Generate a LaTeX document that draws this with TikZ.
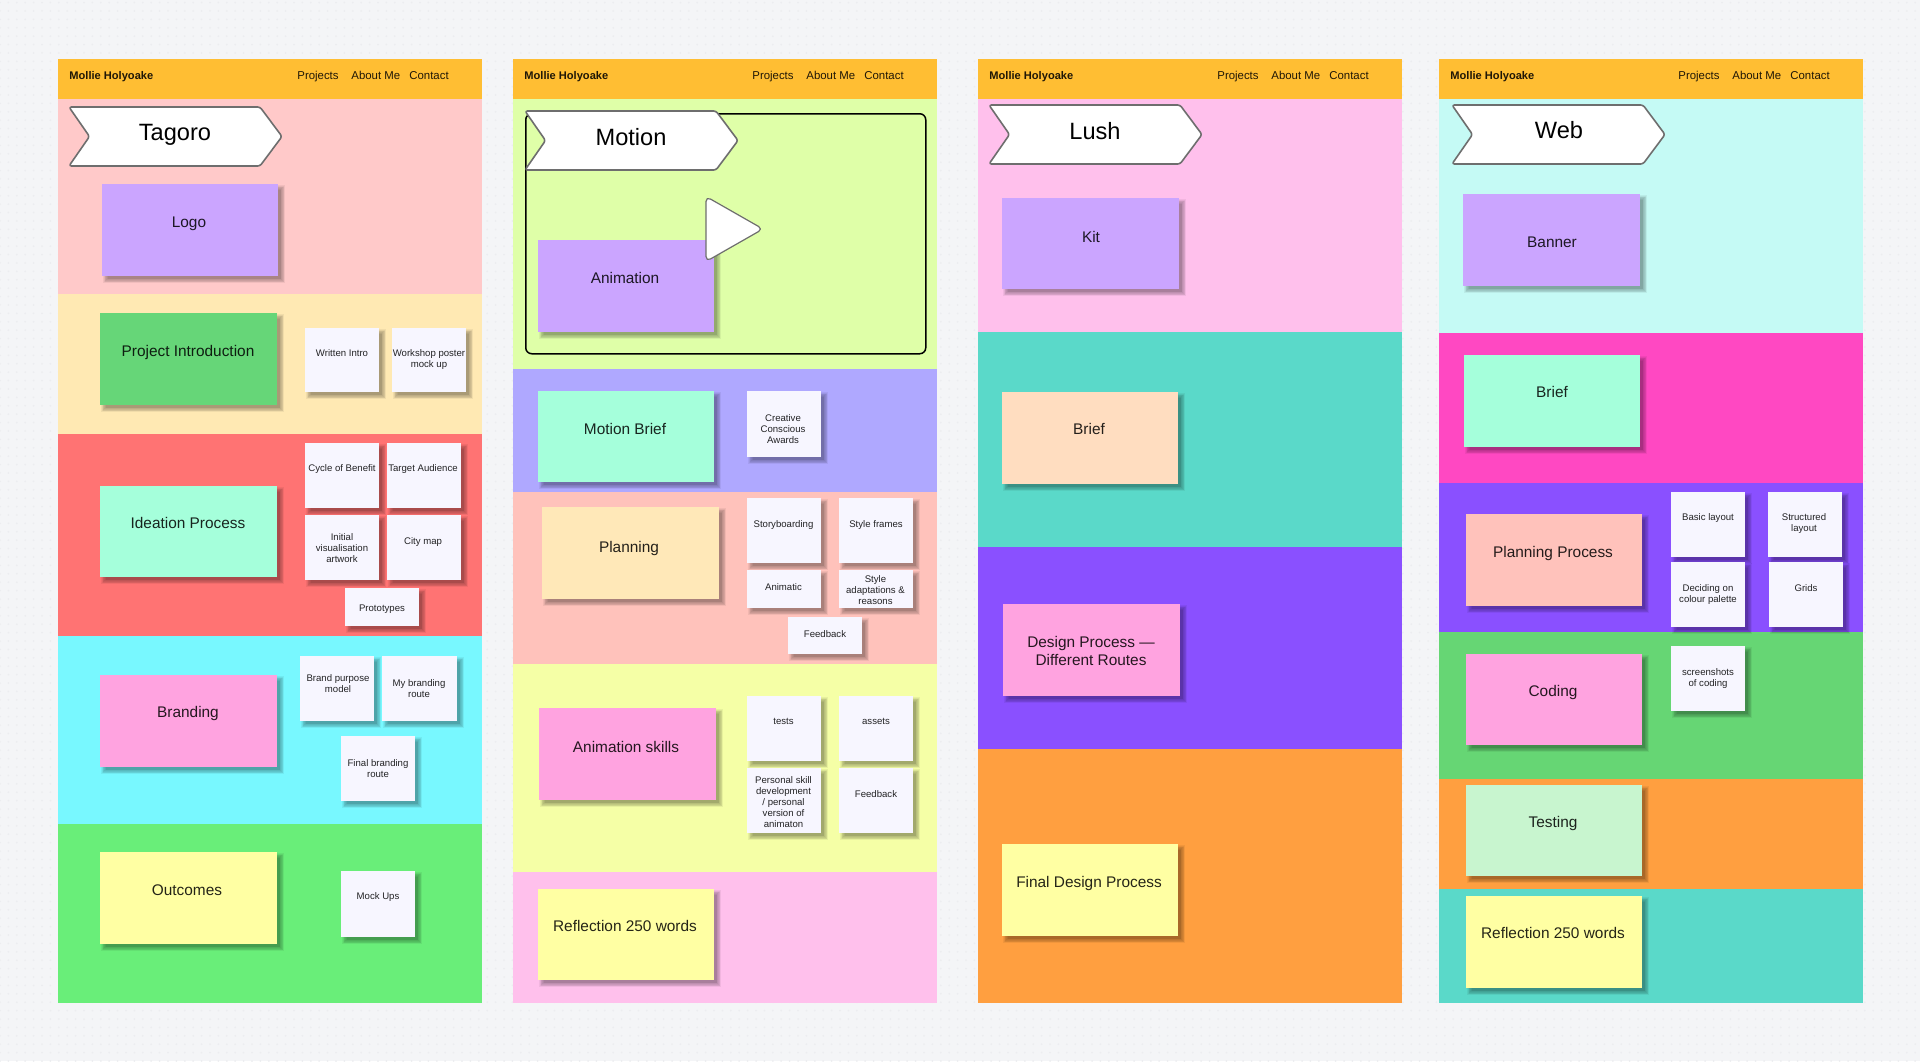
\documentclass[tikz,border=0pt]{standalone}
\usepackage{fontspec}
\setmainfont{Liberation Sans}
\usetikzlibrary{patterns.meta}
\definecolor{pagebg}{HTML}{F4F5F7}
\definecolor{dotc}{HTML}{ECEDF0}
\definecolor{head}{HTML}{FFBE33}
\definecolor{bPink}{HTML}{FFC9C9}
\definecolor{bCream}{HTML}{FFE9B3}
\definecolor{bRed}{HTML}{FF7373}
\definecolor{bCyan}{HTML}{78F8FF}
\definecolor{bGreen}{HTML}{69EE79}
\definecolor{bLime}{HTML}{DFFFA8}
\definecolor{bLav}{HTML}{AFA8FF}
\definecolor{bSalmon}{HTML}{FFC2BB}
\definecolor{bYellow}{HTML}{F5FFA6}
\definecolor{bRose}{HTML}{FFC0EC}
\definecolor{bTeal}{HTML}{5AD9C9}
\definecolor{bPurple}{HTML}{8A50FF}
\definecolor{bOrange}{HTML}{FF9F40}
\definecolor{bIce}{HTML}{C5FAF5}
\definecolor{bMagenta}{HTML}{FF48C2}
\definecolor{bGrass}{HTML}{66D674}
\definecolor{sViolet}{HTML}{CBA5FF}
\definecolor{sGreen}{HTML}{66D678}
\definecolor{sMint}{HTML}{A5FFDB}
\definecolor{sPink}{HTML}{FFA3E0}
\definecolor{sCream}{HTML}{FFE8B8}
\definecolor{sPeach}{HTML}{FFDDC0}
\definecolor{sYellow}{HTML}{FFFFA3}
\definecolor{sPale}{HTML}{C8F5CF}
\definecolor{sSalmon}{HTML}{FFC2BB}
\definecolor{sWhite}{HTML}{F7F6FF}
\definecolor{outl}{HTML}{6E6E6E}
\tikzset{
  cardbox/.style={rectangle,anchor=north west,inner sep=0pt,outer sep=0pt},
  cardtext/.style={inner sep=0pt,align=center,text=black,text opacity=.86,anchor=center,yshift=-.6pt},
  bigtext/.style={cardtext,font=\fontsize{7.7}{9}\selectfont,text height=5.6pt,text depth=1.6pt},
  bigmulti/.style={cardtext,font=\fontsize{7.7}{9}\selectfont},
  smalltext/.style={cardtext,font=\fontsize{4.8}{5.5}\selectfont,text height=3.4pt,text depth=1pt},
  smallmulti/.style={cardtext,font=\fontsize{4.8}{5.5}\selectfont},
  titletext/.style={inner sep=0pt,anchor=center,text=black,yshift=-.6pt,font=\fontsize{11.8}{13}\selectfont,text height=8.4pt,text depth=2.2pt},
  navtext/.style={inner sep=0pt,anchor=west,text=black,text opacity=.88,yshift=-.5pt,font=\fontsize{5.7}{6}\selectfont,text height=3.8pt,text depth=1.1pt},
  brandtext/.style={navtext,font=\bfseries\fontsize{5.55}{6}\selectfont},
  chevronshape/.style={draw=outl,fill=white,line width=.8pt,rounded corners=1.2pt,line join=round},
}
\newcommand\band[4]{\fill[#4] (#1,#2) rectangle ({#1+423.5},#3);}
\newcommand\softshadow[4]{%
  \foreach \d in {3,2.25,1.5,.75,0,-.75,-1.5}{\fill[black,fill opacity=.055] ({#1+4-\d},{#2+4-\d}) rectangle ({#3+4+\d},{#4+4+\d});}}
% name, x1,y1,x2,y2, colour, style, tx, ty, text
\newcommand\card[9]{%
  \softshadow{#2}{#3}{#4}{#5}
  \node[cardbox,fill=#6,minimum width={(#4-#2)*0.5pt},minimum height={(#5-#3)*0.5pt}] (#1) at (#2,#3) {};
  \cardlabel{#1}{#7}{#8}{#9}}
\newcommand\cardlabel[4]{\node[#2] (#1t) at (#3,#4) {\cardtxt};}
\newcommand\header[2]{%
  \fill[head] (#1,58.5) rectangle ({#1+423.5},99);
  \node[brandtext] (#2a) at ({#1+11},76) {Mollie Holyoake};
  \node[navtext] (#2b) at ({#1+239},76) {Projects};
  \node[navtext] (#2c) at ({#1+293},76) {About Me};
  \node[navtext] (#2d) at ({#1+351},76) {Contact};}
% x of left, y top, title name, text x, text y, title
\newcommand\chevron[6]{%
  \draw[chevronshape] (#1,#2) -- ({#1+191},#2) -- ({#1+213},{#2+29.5}) -- ({#1+191},{#2+59}) -- (#1,{#2+59}) -- ({#1+20.5},{#2+29.5}) -- cycle;
  \node[titletext] (#3) at (#4,#5) {#6};}
\begin{document}
\begin{tikzpicture}[x=0.5pt,y=-0.5pt]
\useasboundingbox (0,0) rectangle (1920,1061);
\fill[pagebg] (0,0) rectangle (1920,1061);
\fill[pattern={Dots[distance=4.2pt,radius=.5pt]},pattern color=dotc] (0,0) rectangle (1920,1061);
% column 1
\band{58}{99}{294}{bPink}\band{58}{294}{433.5}{bCream}\band{58}{433.5}{636}{bRed}\band{58}{636}{824}{bCyan}\band{58}{824}{1003}{bGreen}
\header{58}{ha}
\chevron{69}{107}{tTagoro}{175}{133}{Tagoro}
\def\cardtxt{Logo}\card{logo}{102}{184}{278}{276}{sViolet}{bigtext}{189}{222}{}
\def\cardtxt{Project Introduction}\card{intro}{100}{313}{277}{405}{sGreen}{bigtext}{188}{351}{}
\def\cardtxt{Written Intro}\card{written}{305}{328}{379}{392}{sWhite}{smalltext}{342}{353}{}
\def\cardtxt{Workshop poster\\mock up}\card{poster}{392}{328}{466}{392}{sWhite}{smallmulti}{429}{358.5}{}
\def\cardtxt{Ideation Process}\card{ideation}{100}{486}{277}{577}{sMint}{bigtext}{188}{523}{}
\def\cardtxt{Cycle of Benefit}\card{cycle}{305}{443}{379}{508}{sWhite}{smalltext}{342}{468}{}
\def\cardtxt{Target Audience}\card{target}{387}{443}{461}{508}{sWhite}{smalltext}{423}{468}{}
\def\cardtxt{Initial\\visualisation\\artwork}\card{initial}{305}{515}{379}{580}{sWhite}{smallmulti}{342}{547}{}
\def\cardtxt{City map}\card{city}{387}{515}{461}{580}{sWhite}{smalltext}{423}{541}{}
\def\cardtxt{Prototypes}\card{proto}{345}{588}{419}{626}{sWhite}{smalltext}{382}{608}{}
\def\cardtxt{Branding}\card{branding}{100}{675}{277}{767}{sPink}{bigtext}{188}{712}{}
\def\cardtxt{Brand purpose\\model}\card{purpose}{300}{656}{374}{721}{sWhite}{smallmulti}{338}{682.5}{}
\def\cardtxt{My branding\\route}\card{myroute}{382}{656}{457}{721}{sWhite}{smallmulti}{419}{687.5}{}
\def\cardtxt{Final branding\\route}\card{finalroute}{341}{736}{415}{801}{sWhite}{smallmulti}{378}{767.5}{}
\def\cardtxt{Outcomes}\card{outcomes}{100}{852}{277}{944}{sYellow}{bigtext}{187}{890}{}
\def\cardtxt{Mock Ups}\card{mock}{341}{871}{415}{937}{sWhite}{smalltext}{378}{896}{}
% column 2
\band{513}{99}{369}{bLime}\band{513}{369}{492}{bLav}\band{513}{492}{664}{bSalmon}\band{513}{664}{872}{bYellow}\band{513}{872}{1003}{bRose}
\header{513}{hb}
\node[draw=black,line width=.75pt,rounded corners=3pt,fill=none,rectangle,anchor=north west,minimum width=200pt,minimum height=120pt,inner sep=0pt] (frame) at (525,113) {};
\chevron{525}{111}{tMotion}{631}{138}{Motion}
\def\cardtxt{Animation}\card{animation}{538}{240}{714}{332}{sViolet}{bigtext}{625}{278}{}
\draw[draw=outl,fill=white,line width=.6pt,rounded corners=2.5pt,line join=round] (706,196.5) -- (763,229) -- (706,261.5) -- cycle;
\def\cardtxt{Motion Brief}\card{mbrief}{538}{391}{714}{482}{sMint}{bigtext}{625}{429}{}
\def\cardtxt{Creative\\Conscious\\Awards}\card{creative}{747}{391}{821}{457}{sWhite}{smallmulti}{783}{428}{}
\def\cardtxt{Planning}\card{planning}{542}{507}{719}{599}{sCream}{bigtext}{629}{547}{}
\def\cardtxt{Storyboarding}\card{story}{747}{498}{821}{563}{sWhite}{smalltext}{783.5}{524}{}
\def\cardtxt{Style frames}\card{frames}{839}{498}{913}{563}{sWhite}{smalltext}{876}{524}{}
\def\cardtxt{Animatic}\card{animatic}{747}{570}{821}{608}{sWhite}{smalltext}{783.5}{587}{}
\def\cardtxt{Style\\adaptations \&\\reasons}\card{adapt}{839}{570}{913}{608}{sWhite}{smallmulti}{875.5}{589}{}
\def\cardtxt{Feedback}\card{feedback}{788}{617}{862}{654}{sWhite}{smalltext}{825}{634}{}
\def\cardtxt{Animation skills}\card{skills}{539}{708}{716}{800}{sPink}{bigtext}{626}{747}{}
\def\cardtxt{tests}\card{tests}{747}{696}{821}{761}{sWhite}{smalltext}{783.5}{721}{}
\def\cardtxt{assets}\card{assets}{839}{696}{913}{761}{sWhite}{smalltext}{876}{721}{}
\def\cardtxt{Personal skill\\development\\/ personal\\version of\\animaton}\card{personal}{747}{768}{821}{833}{sWhite}{smallmulti}{783.5}{801}{}
\def\cardtxt{Feedback}\card{feedbackb}{839}{768}{913}{833}{sWhite}{smalltext}{876}{794}{}
\def\cardtxt{Reflection 250 words}\card{reflecta}{538}{889}{714}{980}{sYellow}{bigtext}{625}{926}{}
% column 3
\band{978}{99}{332}{bRose}\band{978}{332}{547}{bTeal}\band{978}{547}{749}{bPurple}\band{978}{749}{1003}{bOrange}
\header{978}{hc}
\chevron{989}{105}{tLush}{1095}{132}{Lush}
\def\cardtxt{Kit}\card{kit}{1002}{198}{1179}{289}{sViolet}{bigtext}{1091}{237}{}
\def\cardtxt{Brief}\card{lbrief}{1002}{392}{1178}{484}{sPeach}{bigtext}{1089}{429}{}
\def\cardtxt{Design Process ---\\Different Routes}\card{design}{1003}{604}{1180}{696}{sPink}{bigmulti}{1091}{650}{}
\def\cardtxt{Final Design Process}\card{finaldesign}{1002}{844}{1178}{936}{sYellow}{bigtext}{1089}{882}{}
% column 4
\band{1439}{99}{333}{bIce}\band{1439}{333}{483}{bMagenta}\band{1439}{483}{632}{bPurple}\band{1439}{632}{779}{bGrass}\band{1439}{779}{889}{bOrange}\band{1439}{889}{1003}{bTeal}
\header{1439}{hd}
\chevron{1452}{105}{tWeb}{1559}{131}{Web}
\def\cardtxt{Banner}\card{banner}{1463}{194}{1640}{286}{sViolet}{bigtext}{1552}{242}{}
\def\cardtxt{Brief}\card{wbrief}{1464}{355}{1640}{447}{sMint}{bigtext}{1552}{392}{}
\def\cardtxt{Planning Process}\card{plan}{1466}{514}{1642}{606}{sSalmon}{bigtext}{1553}{552}{}
\def\cardtxt{Basic layout}\card{basic}{1671}{492}{1745}{557}{sWhite}{smalltext}{1708}{517}{}
\def\cardtxt{Structured\\layout}\card{structured}{1768}{492}{1842}{557}{sWhite}{smallmulti}{1804}{522.5}{}
\def\cardtxt{Deciding on\\colour palette}\card{deciding}{1671}{562}{1745}{627}{sWhite}{smallmulti}{1708}{593.5}{}
\def\cardtxt{Grids}\card{grids}{1769}{562}{1843}{627}{sWhite}{smalltext}{1806}{588}{}
\def\cardtxt{Coding}\card{coding}{1466}{654}{1642}{745}{sPink}{bigtext}{1553}{691}{}
\def\cardtxt{screenshots\\of coding}\card{shots}{1671}{646}{1745}{711}{sWhite}{smallmulti}{1708}{677.5}{}
\def\cardtxt{Testing}\card{testing}{1466}{785}{1642}{876}{sPale}{bigtext}{1553}{822}{}
\def\cardtxt{Reflection 250 words}\card{reflectb}{1466}{896}{1642}{988}{sYellow}{bigtext}{1553}{933}{}
\end{tikzpicture}
\end{document}
